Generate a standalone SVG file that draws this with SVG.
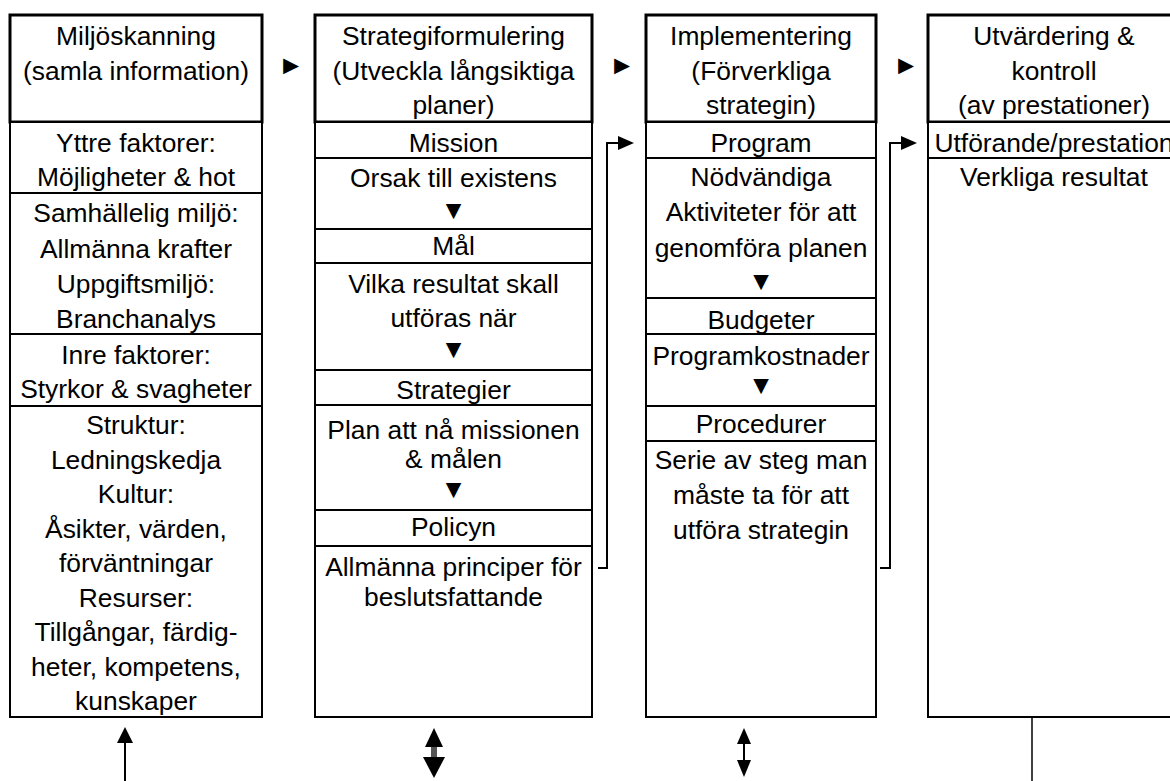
<svg xmlns="http://www.w3.org/2000/svg" width="1170" height="781" viewBox="0 0 1170 781">
  <defs>
    <style>
      .hdr { fill: #fff; stroke: #000; stroke-width: 3; }
      .body { fill: #fff; stroke: #000; stroke-width: 2; }
      .row { stroke: #000; stroke-width: 2; }
      .t { font-family: "Liberation Sans", Arial, sans-serif; font-size: 26.4px; fill: #000; text-anchor: middle; }
      .link { fill: none; stroke: #000; stroke-width: 2; }
      .head { fill: #000; stroke: none; }
    </style>
  </defs>
  <rect width="1170" height="781" fill="#fff"/>

  <!-- Column 1: environmental scanning -->
  <g id="scanning">
    <rect class="hdr" x="10" y="15" width="252" height="107"/>
    <text class="t" x="136" y="45">Miljöskanning</text>
    <text class="t" x="136" y="80">(samla information)</text>
    <rect class="body" x="10" y="122" width="252" height="595"/>
    <line class="row" x1="10" y1="193" x2="262" y2="193"/>
    <line class="row" x1="10" y1="334" x2="262" y2="334"/>
    <line class="row" x1="10" y1="406" x2="262" y2="406"/>
    <text class="t" x="136" y="152">Yttre faktorer:</text>
    <text class="t" x="136" y="186">Möjligheter &amp; hot</text>
    <text class="t" x="136" y="222">Samhällelig miljö:</text>
    <text class="t" x="136" y="258">Allmänna krafter</text>
    <text class="t" x="136" y="293">Uppgiftsmiljö:</text>
    <text class="t" x="136" y="328">Branchanalys</text>
    <text class="t" x="136" y="364">Inre faktorer:</text>
    <text class="t" x="136" y="398">Styrkor &amp; svagheter</text>
    <text class="t" x="136" y="434">Struktur:</text>
    <text class="t" x="136" y="469">Ledningskedja</text>
    <text class="t" x="136" y="503">Kultur:</text>
    <text class="t" x="136" y="538">Åsikter, värden,</text>
    <text class="t" x="136" y="572">förväntningar</text>
    <text class="t" x="136" y="607">Resurser:</text>
    <text class="t" x="136" y="641">Tillgångar, färdig-</text>
    <text class="t" x="136" y="676">heter, kompetens,</text>
    <text class="t" x="136" y="710">kunskaper</text>
  </g>

  <!-- Column 2: strategy formulation -->
  <g id="formulation">
    <rect class="hdr" x="315" y="15" width="277" height="107"/>
    <text class="t" x="453.5" y="45">Strategiformulering</text>
    <text class="t" x="453.5" y="80">(Utveckla långsiktiga</text>
    <text class="t" x="453.5" y="114">planer)</text>
    <rect class="body" x="315" y="122" width="277" height="595"/>
    <line class="row" x1="315" y1="158" x2="592" y2="158"/>
    <line class="row" x1="315" y1="229" x2="592" y2="229"/>
    <line class="row" x1="315" y1="263" x2="592" y2="263"/>
    <line class="row" x1="315" y1="370" x2="592" y2="370"/>
    <line class="row" x1="315" y1="405" x2="592" y2="405"/>
    <line class="row" x1="315" y1="510" x2="592" y2="510"/>
    <line class="row" x1="315" y1="546" x2="592" y2="546"/>
    <text class="t" x="453.5" y="152">Mission</text>
    <text class="t" x="453.5" y="187">Orsak till existens</text>
    <text class="t" x="453.5" y="219">▼</text>
    <text class="t" x="453.5" y="255">Mål</text>
    <text class="t" x="453.5" y="293">Vilka resultat skall</text>
    <text class="t" x="453.5" y="327">utföras när</text>
    <text class="t" x="453.5" y="358">▼</text>
    <text class="t" x="453.5" y="399">Strategier</text>
    <text class="t" x="453.5" y="439">Plan att nå missionen</text>
    <text class="t" x="453.5" y="468">&amp; målen</text>
    <text class="t" x="453.5" y="498">▼</text>
    <text class="t" x="453.5" y="536">Policyn</text>
    <text class="t" x="453.5" y="576">Allmänna principer för</text>
    <text class="t" x="453.5" y="606">beslutsfattande</text>
  </g>

  <!-- Column 3: implementation -->
  <g id="implementation">
    <rect class="hdr" x="646" y="15" width="230" height="107"/>
    <text class="t" x="761" y="45">Implementering</text>
    <text class="t" x="761" y="80">(Förverkliga</text>
    <text class="t" x="761" y="114">strategin)</text>
    <rect class="body" x="646" y="122" width="230" height="595"/>
    <line class="row" x1="646" y1="158" x2="876" y2="158"/>
    <line class="row" x1="646" y1="298" x2="876" y2="298"/>
    <line class="row" x1="646" y1="334" x2="876" y2="334"/>
    <line class="row" x1="646" y1="406" x2="876" y2="406"/>
    <line class="row" x1="646" y1="441" x2="876" y2="441"/>
    <text class="t" x="761" y="152">Program</text>
    <text class="t" x="761" y="186">Nödvändiga</text>
    <text class="t" x="761" y="221">Aktiviteter för att</text>
    <text class="t" x="761" y="257">genomföra planen</text>
    <text class="t" x="761" y="290">▼</text>
    <text class="t" x="761" y="329">Budgeter</text>
    <text class="t" x="761" y="365">Programkostnader</text>
    <text class="t" x="761" y="394">▼</text>
    <text class="t" x="761" y="433">Procedurer</text>
    <text class="t" x="761" y="469">Serie av steg man</text>
    <text class="t" x="761" y="504">måste ta för att</text>
    <text class="t" x="761" y="539">utföra strategin</text>
  </g>

  <!-- Column 4: evaluation and control -->
  <g id="evaluation">
    <rect class="hdr" x="928" y="15" width="252" height="107"/>
    <text class="t" x="1054" y="45">Utvärdering &amp;</text>
    <text class="t" x="1054" y="80">kontroll</text>
    <text class="t" x="1054" y="114">(av prestationer)</text>
    <rect class="body" x="928" y="122" width="252" height="595"/>
    <line class="row" x1="928" y1="158" x2="1180" y2="158"/>
    <text class="t" x="1054" y="152">Utförande/prestation</text>
    <text class="t" x="1054" y="186">Verkliga resultat</text>
  </g>

  <!-- Connectors -->
  <g id="connectors">
    <!-- flow markers between headers -->
    <text class="t" x="291" y="74">►</text>
    <text class="t" x="622" y="74">►</text>
    <text class="t" x="906" y="74">►</text>

    <!-- policy feeds program -->
    <polyline class="link" points="598,568 607,568 607,143 619,143"/>
    <polygon class="head" points="618,136 634,143 618,150"/>
    <!-- procedures feed performance -->
    <polyline class="link" points="880,568 890,568 890,143 902,143"/>
    <polygon class="head" points="901,136 917,143 901,150"/>

    <!-- bottom arrows -->
    <line class="link" x1="125" y1="741" x2="125" y2="781"/>
    <polygon class="head" points="125,727 117,743 133,743"/>

    <rect x="431" y="745" width="6" height="14" fill="#555"/>
    <polygon class="head" points="434,728 425,747 443,747"/>
    <polygon class="head" points="423,757 445,757 434,778"/>

    <line class="link" x1="744" y1="740" x2="744" y2="762"/>
    <polygon class="head" points="744,728 737,744 751,744"/>
    <polygon class="head" points="737,760 751,760 744,777"/>

    <line x1="1032" y1="718" x2="1032" y2="781" stroke="#000" stroke-width="1.5"/>
  </g>
</svg>
